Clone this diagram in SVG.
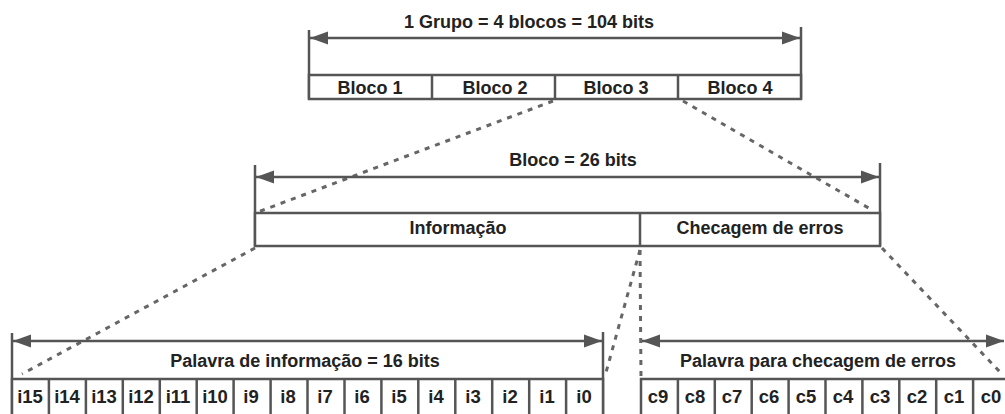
<svg xmlns="http://www.w3.org/2000/svg" width="1005" height="414" viewBox="0 0 1005 414">
<style>
.ln{stroke:#555;stroke-width:2.5;fill:none}
.bx{stroke:#555;stroke-width:2.5;fill:#fff}
.ar{stroke:#555;stroke-width:2.5;fill:none;marker-start:url(#ah);marker-end:url(#ah)}
.ds{stroke:#666;stroke-width:3;fill:none;stroke-dasharray:5 6}
text{font-family:"Liberation Sans",Arial,sans-serif;font-weight:bold;font-size:18px;fill:#222;text-anchor:middle}
.b{font-size:18.5px}
</style>
<defs>
<marker id="ah" markerUnits="userSpaceOnUse" markerWidth="20" markerHeight="14" refX="18" refY="7" orient="auto-start-reverse">
<path d="M0,0.5 L18,7 L0,13.5 z" fill="#555"/>
</marker>
</defs>
<rect width="1005" height="414" fill="#fff"/>

<g id="connectors">
<line class="ds" x1="553" y1="101" x2="258" y2="212"/>
<line class="ds" x1="683" y1="101" x2="872" y2="210"/>
<line class="ds" x1="255" y1="248" x2="22" y2="374"/>
<line class="ds" x1="640" y1="250" x2="605" y2="376"/>
<line class="ds" x1="640" y1="250" x2="641" y2="378"/>
<line class="ds" x1="882" y1="248" x2="1000" y2="372"/>
</g>

<g id="grupo">
<text x="529" y="28">1 Grupo = 4 blocos = 104 bits</text>
<line class="ln" x1="309" y1="30" x2="309" y2="99"/>
<line class="ln" x1="801" y1="27" x2="801" y2="99"/>
<line class="ar" x1="310" y1="38" x2="800" y2="38"/>
<rect class="bx" x="309" y="75" width="492" height="24"/>
<line class="ln" x1="432" y1="75" x2="432" y2="99"/>
<line class="ln" x1="555" y1="75" x2="555" y2="99"/>
<line class="ln" x1="678" y1="75" x2="678" y2="99"/>
<text x="370" y="94">Bloco 1</text>
<text x="495" y="94">Bloco 2</text>
<text x="616" y="94">Bloco 3</text>
<text x="740" y="94">Bloco 4</text>
</g>

<g id="bloco">
<text x="573" y="166">Bloco = 26 bits</text>
<line class="ln" x1="255" y1="165" x2="255" y2="246"/>
<line class="ln" x1="880" y1="163" x2="880" y2="246"/>
<line class="ar" x1="256" y1="177" x2="879" y2="177"/>
<rect class="bx" x="255" y="213" width="625" height="33"/>
<line class="ln" x1="640" y1="213" x2="640" y2="246"/>
<text x="458" y="234">Informação</text>
<text x="760" y="234">Checagem de erros</text>
</g>

<g id="palavra-informacao">
<line class="ln" x1="12" y1="333" x2="12" y2="414"/>
<line class="ln" x1="603" y1="332" x2="603" y2="414"/>
<line class="ar" x1="13" y1="341" x2="602" y2="341"/>
<text x="305" y="367">Palavra de informação = 16 bits</text>
<rect class="bx" x="12" y="379" width="591" height="45"/>
<path class="ln" d="M48.9,379V414M85.9,379V414M122.8,379V414M159.8,379V414M196.7,379V414M233.6,379V414M270.6,379V414M307.5,379V414M344.5,379V414M381.4,379V414M418.3,379V414M455.3,379V414M492.2,379V414M529.2,379V414M566.1,379V414"/>
<text class="b" x="30" y="403">i15</text>
<text class="b" x="67" y="403">i14</text>
<text class="b" x="104" y="403">i13</text>
<text class="b" x="141" y="403">i12</text>
<text class="b" x="178" y="403">i11</text>
<text class="b" x="215" y="403">i10</text>
<text class="b" x="251" y="403">i9</text>
<text class="b" x="288" y="403">i8</text>
<text class="b" x="325" y="403">i7</text>
<text class="b" x="362" y="403">i6</text>
<text class="b" x="399" y="403">i5</text>
<text class="b" x="436" y="403">i4</text>
<text class="b" x="473" y="403">i3</text>
<text class="b" x="510" y="403">i2</text>
<text class="b" x="547" y="403">i1</text>
<text class="b" x="584" y="403">i0</text>
</g>

<g id="palavra-checagem">
<line class="ar" x1="642" y1="341" x2="1004" y2="341"/>
<text x="818" y="367">Palavra para checagem de erros</text>
<rect class="bx" x="641" y="379" width="369" height="45"/>
<path class="ln" d="M677.9,379V414M714.8,379V414M751.7,379V414M788.6,379V414M825.5,379V414M862.4,379V414M899.3,379V414M936.2,379V414M973.1,379V414"/>
<text class="b" x="658" y="403">c9</text>
<text class="b" x="695" y="403">c8</text>
<text class="b" x="732" y="403">c7</text>
<text class="b" x="769" y="403">c6</text>
<text class="b" x="806" y="403">c5</text>
<text class="b" x="843" y="403">c4</text>
<text class="b" x="880" y="403">c3</text>
<text class="b" x="917" y="403">c2</text>
<text class="b" x="954" y="403">c1</text>
<text class="b" x="991" y="403">c0</text>
</g>
</svg>
